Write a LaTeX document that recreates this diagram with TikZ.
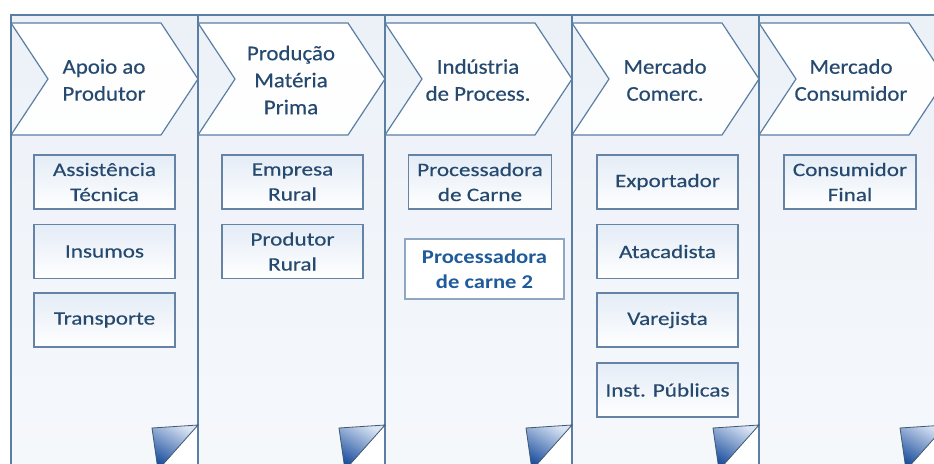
\documentclass[tikz,border=0pt]{standalone}
\usepackage{fontspec}
\setmainfont{Carlito}
\newfontfamily\headfont[FakeStretch=1.09,FakeBold=0.4]{Carlito}
\newfontfamily\boxfont[FakeStretch=1.22,FakeBold=0.4]{Carlito}
\newfontfamily\boxbfont[FakeStretch=1.16]{Carlito Bold}
\definecolor{colline}{HTML}{5B7EA3}
\definecolor{txt}{HTML}{264A6F}
\definecolor{colbg}{HTML}{ECF1F8}
\definecolor{boxline}{HTML}{6584A5}
\definecolor{boxbg}{HTML}{E4ECF6}
\definecolor{folddark}{HTML}{184C9C}
\definecolor{foldlight}{HTML}{D8E3F3}
\definecolor{blue2}{HTML}{1F5B9A}
\definecolor{line2}{HTML}{8FA7C0}
\tikzset{
  colframe/.style={draw=colline, line width=1.2pt},
  chev/.style={draw=colline, line width=1.2pt, top color=white, bottom color=white!90!colbg},
  fold/.style={draw=colline!70!black, line width=0.8pt, top color=foldlight, bottom color=folddark, shading angle=-30},
  headtxt/.style={text=txt, align=center, font=\headfont\fontsize{21}{27}\selectfont},
  boxnode/.style={draw=boxline, line width=1.1pt, top color=boxbg, bottom color=white, text=txt, align=center,
    font=\boxfont\fontsize{19}{25}\selectfont, minimum width=141pt, minimum height=54pt, inner sep=0pt},
  boxtwo/.style={boxnode, draw=line2, text=blue2, font=\boxbfont\fontsize{19.5}{25}\selectfont,
    minimum width=159pt, minimum height=60pt, top color=white, bottom color=white}
}
\begin{document}
\begin{tikzpicture}[x=1pt,y=-1pt]
\useasboundingbox (0,0) rectangle (934,463);
\begin{scope}
\clip (0,0) rectangle (934,463);
% column backgrounds
\foreach \L/\R in {11/198,198/385,385/572,572/759,759/946} {
  \fill[top color=colbg, bottom color=white!50!colbg] (\L,15) rectangle (\R,470);
}
% chevrons
\foreach \L/\R in {11/198,198/385,385/572,572/759,759/946} {
  \draw[chev] (\L,23) -- (\R-37,23) -- (\R,79) -- (\R-37,135) -- (\L,135) -- (\L+37,79) -- cycle;
}
% column frames
\foreach \L/\R in {11/198,198/385,385/572,572/759,759/946} {
  \draw[colframe] (\L,470) -- (\L,15) -- (\R,15) -- (\R,470);
}
% page folds
\foreach \R in {198,385,572,759,946} {
  \fill[white] (\R-46,428) -- (\R,425) -- (\R,470) -- (\R-40,470) -- cycle;
  \draw[colframe] (\R,425) -- (\R,470);
  \draw[fold] (\R-46,428) -- (\R,425) -- (\R-40,470) -- cycle;
}
\end{scope}
% headers
\node[headtxt] (h1) at (104,80) {Apoio ao\\Produtor};
\node[headtxt] (h2) at (291,80) {Produção\\Matéria\\Prima};
\node[headtxt] (h3) at (478,80) {Indústria\\de Process.};
\node[headtxt] (h4) at (665,80) {Mercado\\Comerc.};
\node[headtxt] (h5) at (851,80) {Mercado\\Consumidor};
% column 1
\node[boxnode] (a1) at (104.5,182) {Assistência\\Técnica};
\node[boxnode] (a2) at (104.5,251.5) {Insumos};
\node[boxnode] (a3) at (104.5,320) {Transporte};
% column 2
\node[boxnode] (p1) at (292.5,182) {Empresa\\Rural};
\node[boxnode] (p2) at (292.5,251.5) {Produtor\\Rural};
% column 3
\node[boxnode, minimum width=143pt] (i1) at (480,182) {Processadora\\de Carne};
\node[boxtwo] (i2) at (484.5,269) {Processadora\\de carne 2};
% column 4
\node[boxnode] (m1) at (667.5,182) {Exportador};
\node[boxnode] (m2) at (667.5,251.5) {Atacadista};
\node[boxnode] (m3) at (667.5,320) {Varejista};
\node[boxnode] (m4) at (667.5,390) {Inst. Públicas};
% column 5
\node[boxnode, minimum width=132pt] (c1) at (850,182) {Consumidor\\Final};
\end{tikzpicture}
\end{document}
